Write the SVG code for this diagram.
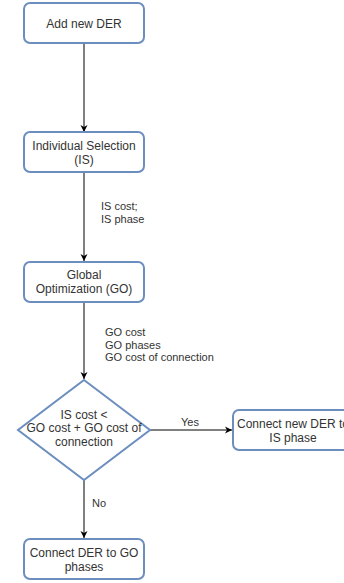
<svg xmlns="http://www.w3.org/2000/svg" width="344" height="583" viewBox="0 0 344 583">
<defs>
<style>
.n{fill:#ffffff;stroke:#6c8ebf;stroke-width:2}
.t{font-family:"Liberation Sans",Arial,sans-serif;font-size:12px;fill:#333333;text-anchor:middle}
.l{font-family:"Liberation Sans",Arial,sans-serif;font-size:11px;fill:#333333}
.c{stroke:#000000;stroke-width:1;fill:none;marker-end:url(#a)}
</style>
<marker id="a" markerWidth="8" markerHeight="8" refX="7" refY="4" orient="auto" markerUnits="userSpaceOnUse">
<path d="M0,0.5 L7,4 L0,7.5 L2,4 Z" fill="#000000"/>
</marker>
</defs>
<rect width="344" height="583" fill="#ffffff"/>
<g id="connectors">
<line class="c" x1="84" y1="43" x2="84" y2="132"/>
<line class="c" x1="84" y1="172" x2="84" y2="261"/>
<text class="l" x="101" y="210">IS cost;</text>
<text class="l" x="101" y="223">IS phase</text>
<line class="c" x1="84" y1="302" x2="84" y2="379"/>
<text class="l" x="105" y="336">GO cost</text>
<text class="l" x="105" y="349">GO phases</text>
<text class="l" x="105" y="361">GO cost of connection</text>
<line class="c" x1="150" y1="430" x2="232" y2="430"/>
<text class="l" x="190" y="426" text-anchor="middle">Yes</text>
<line class="c" x1="84" y1="480" x2="84" y2="538"/>
<text class="l" x="92" y="507">No</text>
</g>
<g id="add">
<rect class="n" x="24" y="3" width="120" height="40" rx="6"/>
<text class="t" x="84" y="28">Add new DER</text>
</g>
<g id="is">
<rect class="n" x="24" y="132" width="120" height="40" rx="6"/>
<text class="t" x="84" y="150">Individual Selection</text>
<text class="t" x="84" y="164">(IS)</text>
</g>
<g id="go">
<rect class="n" x="24" y="262" width="120" height="40" rx="6"/>
<text class="t" x="84" y="279">Global</text>
<text class="t" x="84" y="293">Optimization (GO)</text>
</g>
<g id="decision">
<polygon class="n" points="84,380 150,430 84,480 18,430"/>
<text class="t" x="84" y="419">IS cost &lt;</text>
<text class="t" x="84" y="432">GO cost + GO cost of</text>
<text class="t" x="84" y="446">connection</text>
</g>
<g id="connectis">
<rect class="n" x="233" y="410" width="120" height="40" rx="6"/>
<text class="t" x="293" y="428">Connect new DER to</text>
<text class="t" x="293" y="442">IS phase</text>
</g>
<g id="connectgo">
<rect class="n" x="24" y="539" width="120" height="40" rx="6"/>
<text class="t" x="84" y="557">Connect DER to GO</text>
<text class="t" x="84" y="571">phases</text>
</g>
</svg>
